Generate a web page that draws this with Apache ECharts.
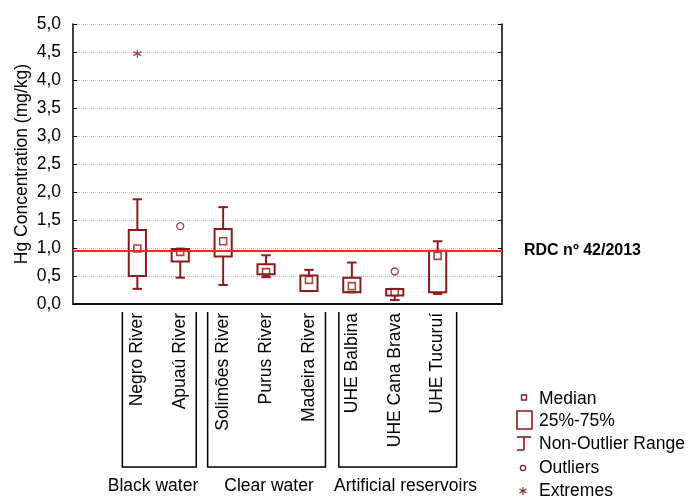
<!DOCTYPE html>
<html>
<head>
<meta charset="utf-8">
<script src="https://cdn.jsdelivr.net/npm/echarts@6/dist/echarts.min.js"></script>
<style>html,body{margin:0;padding:0;background:#fff}#c{width:695px;height:497px}</style>
</head>
<body>
<div id="c"></div>
<script>
// ---- data ----
var categories = ['Negro River', 'Apuaú River', 'Solimões River', 'Purus River', 'Madeira River', 'UHE Balbina', 'UHE Cana Brava', 'UHE Tucuruí'];
var whiskerLow  = [0.27, 0.47, 0.34, 0.48, 0.23, 0.21, 0.07, 0.18];
var q1          = [0.50, 0.76, 0.85, 0.53, 0.23, 0.21, 0.15, 0.21];
var medians     = [0.99, 0.93, 1.12, 0.57, 0.43, 0.32, 0.21, 0.86];
var q3          = [1.32, 0.98, 1.34, 0.71, 0.51, 0.47, 0.27, 0.95];
var whiskerHigh = [1.87, 0.98, 1.73, 0.87, 0.61, 0.74, 0.27, 1.12];
var outliers    = [['Apuaú River', 1.39], ['UHE Cana Brava', 0.58]];
var extremes    = [['Negro River', 4.47]];
var rdcLimit = 0.95;
var yTicks = ['0,0','0,5','1,0','1,5','2,0','2,5','3,0','3,5','4,0','4,5','5,0'];
var groups = [['Black water', 'Negro River', 'Apuaú River'], ['Clear water', 'Solimões River', 'Madeira River'], ['Artificial reservoirs', 'UHE Balbina', 'UHE Tucuruí']];

// ---- build ----
var axisCats = [''].concat(categories).concat(['']);
function idx(name){ return axisCats.indexOf(name); }
var COLOR = '#8b1c1c';
var FONT = 'Liberation Sans, Arial, sans-serif';
var FS = 17.5;

var boxData = categories.map(function(c,i){ return [idx(c), q1[i], q3[i]]; });
var whiskData = categories.map(function(c,i){ return [idx(c), whiskerLow[i], q1[i], q3[i], whiskerHigh[i]]; });
var medData = categories.map(function(c,i){ return [idx(c), medians[i]]; });
var outData = outliers.map(function(o){ return [idx(o[0]), o[1]]; });
var extData = extremes.map(function(o){ return [idx(o[0]), o[1]]; });

function renderBox(params, api){
  var x = api.value(0);
  var a = api.coord([x, api.value(2)]);
  var b = api.coord([x, api.value(1)]);
  var w = api.size([1,0])[0]*0.4;
  return {type:'rect', shape:{x:a[0]-w/2, y:a[1], width:w, height:b[1]-a[1]},
    style:{fill:'none', stroke:COLOR, lineWidth:2}};
}
function renderWhisk(params, api){
  var x = api.value(0);
  var lo = api.coord([x, api.value(1)]);
  var bq1 = api.coord([x, api.value(2)]);
  var bq3 = api.coord([x, api.value(3)]);
  var hi = api.coord([x, api.value(4)]);
  var cw = api.size([1,0])[0]*0.22;
  var st = {stroke:COLOR, lineWidth:2};
  return {type:'group', children:[
    {type:'line', shape:{x1:lo[0], y1:lo[1], x2:bq1[0], y2:bq1[1]}, style:st},
    {type:'line', shape:{x1:hi[0], y1:hi[1], x2:bq3[0], y2:bq3[1]}, style:st},
    {type:'line', shape:{x1:lo[0]-cw/2, y1:lo[1], x2:lo[0]+cw/2, y2:lo[1]}, style:st},
    {type:'line', shape:{x1:hi[0]-cw/2, y1:hi[1], x2:hi[0]+cw/2, y2:hi[1]}, style:st}
  ]};
}

var ASTER = 'path://M5,0L5,10M0.67,2.5L9.33,7.5M0.67,7.5L9.33,2.5';

var chart = echarts.init(document.getElementById('c'), null, {renderer:'canvas'});

var option = {
  animation:false,
  backgroundColor:'#fff',
  textStyle:{fontFamily:FONT},
  grid:{left:73, right:193, top:24, bottom:193},
  xAxis:[{
    type:'category', data:axisCats, position:'bottom', boundaryGap:true,
    axisLine:{lineStyle:{color:'#000', width:1.5}},
    axisTick:{inside:true, alignWithLabel:true, length:5, lineStyle:{color:'#000'}},
    axisLabel:{rotate:90, interval:0, margin:9, fontFamily:FONT, fontSize:FS, color:'#000'},
    splitLine:{show:false}
  },{
    type:'category', data:axisCats, position:'top', boundaryGap:true,
    axisLine:{lineStyle:{color:'#000', width:1.5}},
    axisTick:{inside:true, alignWithLabel:true, length:5, lineStyle:{color:'#000'}},
    axisLabel:{show:false}, splitLine:{show:false}
  }],
  yAxis:[{
    type:'value', min:0, max:5, interval:0.5, position:'left',
    name:'Hg Concentration (mg/kg)', nameLocation:'middle', nameGap:42, nameMoveOverlap:false,
    nameTextStyle:{fontFamily:FONT, fontSize:FS, color:'#000'},
    axisLine:{show:true, lineStyle:{color:'#000', width:1.5}},
    axisTick:{show:true, inside:true, length:4, lineStyle:{color:'#000'}},
    axisLabel:{margin:12, fontFamily:FONT, fontSize:FS, color:'#000',
      formatter:function(v){ return yTicks[Math.round(v/0.5)]; }},
    splitLine:{show:true, lineStyle:{color:'#bdbdbd', type:'dotted', width:1}}
  },{
    type:'value', min:0, max:5, interval:0.5, position:'right',
    axisLine:{show:true, lineStyle:{color:'#000', width:1.5}},
    axisTick:{show:true, inside:true, length:4, lineStyle:{color:'#000'}},
    axisLabel:{show:false}, splitLine:{show:false}
  }],
  series:[
    {type:'custom', name:'25%-75%', renderItem:renderBox, data:boxData, encode:{x:0, y:[1,2]}, z:3},
    {type:'custom', name:'Non-Outlier Range', renderItem:renderWhisk, data:whiskData, encode:{x:0, y:[1,2,3,4]}, z:3},
    {type:'scatter', name:'Median', data:medData, symbol:'rect', symbolSize:7,
      itemStyle:{color:'rgba(0,0,0,0)', borderColor:COLOR, borderWidth:1.6}, z:4,
      markLine:{silent:true, symbol:'none', z:10,
        lineStyle:{color:'#ff2525', width:2, type:'solid'},
        label:{show:true, position:'end', distance:22, formatter:'RDC nº 42/2013',
          fontFamily:FONT, fontSize:16, fontWeight:'bold', color:'#000'},
        data:[{yAxis:rdcLimit}]}},
    {type:'scatter', name:'Outliers', data:outData, symbol:'circle', symbolSize:7,
      itemStyle:{color:'rgba(0,0,0,0)', borderColor:COLOR, borderWidth:1.3}, z:4},
    {type:'scatter', name:'Extremes', data:extData, symbol:ASTER, symbolSize:8,
      itemStyle:{color:'rgba(0,0,0,0)', borderColor:COLOR, borderWidth:1.3}, z:4}
  ]
};
chart.setOption(option);

// ---- annotations: group brackets and legend ----
function px(name){ return chart.convertToPixel({xAxisIndex:0}, idx(name)); }
var graphics = [];
var offs = [[-15,16],[-15.5,16.5],[-13,19]];
groups.forEach(function(g, k){
  var x1 = px(g[1]) + offs[k][0], x2 = px(g[2]) + offs[k][1];
  graphics.push({type:'polyline', shape:{points:[[x1,312],[x1,467],[x2,467],[x2,312]]},
    style:{stroke:'#000', lineWidth:1.5, fill:null}});
});
var glabelX = [153, 269, 405.5];
groups.forEach(function(g,k){
  graphics.push({type:'text', x:glabelX[k], y:486, style:{text:g[0], font:FS+'px '+FONT, fill:'#000', textAlign:'center', textVerticalAlign:'middle'}});
});
// legend
var lx = 539;
var legendItems = [['Median',399],['25%-75%',421],['Non-Outlier Range',444],['Outliers',468],['Extremes',491]];
legendItems.forEach(function(it){
  graphics.push({type:'text', x:lx, y:it[1], style:{text:it[0], font:FS+'px '+FONT, fill:'#000', textAlign:'left', textVerticalAlign:'middle'}});
});
var ls = {stroke:COLOR, lineWidth:1.6};
graphics.push({type:'rect', shape:{x:521.5, y:395, width:5, height:5}, style:{fill:null, stroke:COLOR, lineWidth:1.3}});
graphics.push({type:'rect', shape:{x:517, y:411, width:15, height:18}, style:{fill:null, stroke:COLOR, lineWidth:1.6}});
graphics.push({type:'line', shape:{x1:517, y1:437, x2:531, y2:437}, style:ls});
graphics.push({type:'line', shape:{x1:524, y1:437, x2:524, y2:450}, style:ls});
graphics.push({type:'line', shape:{x1:517, y1:450, x2:524, y2:450}, style:ls});
graphics.push({type:'circle', shape:{cx:523, cy:468, r:2.7}, style:{fill:null, stroke:COLOR, lineWidth:1.2}});
var as = {stroke:COLOR, lineWidth:1.1};
graphics.push({type:'line', shape:{x1:523, y1:487, x2:523, y2:495}, style:as});
graphics.push({type:'line', shape:{x1:519.5, y1:489, x2:526.5, y2:493}, style:as});
graphics.push({type:'line', shape:{x1:519.5, y1:493, x2:526.5, y2:489}, style:as});
chart.setOption({graphic:graphics});
</script>
</body>
</html>
